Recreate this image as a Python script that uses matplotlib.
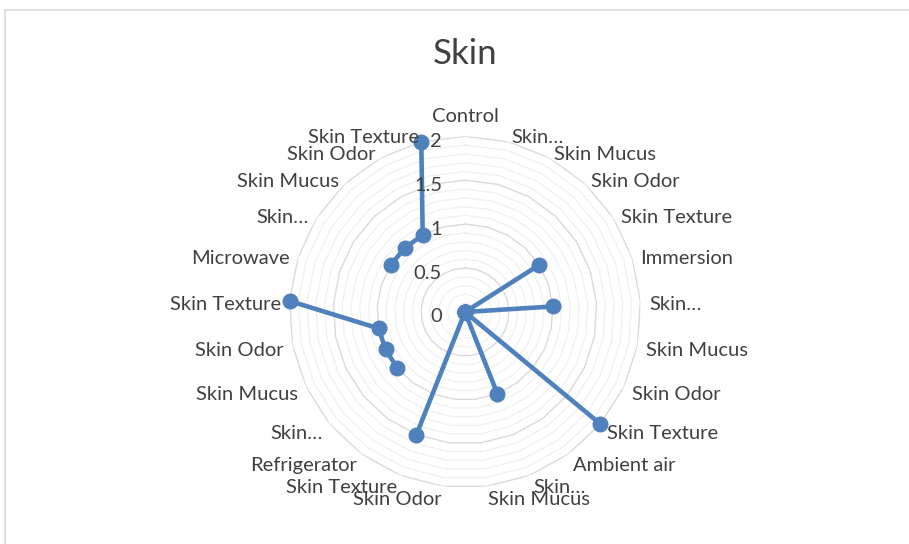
import numpy as np
import matplotlib
matplotlib.use("Agg")
import matplotlib.pyplot as plt
import matplotlib.transforms as mtransforms
from matplotlib.patches import Rectangle

# categories around the radar, clockwise from the top
categories = ["Control", "Skin…", "Skin Mucus", "Skin Odor", "Skin Texture",
              "Immersion", "Skin…", "Skin Mucus", "Skin Odor", "Skin Texture",
              "Ambient air", "Skin…", "Skin Mucus", "Skin Odor", "Skin Texture",
              "Refrigerator", "Skin…", "Skin Mucus", "Skin Odor", "Skin Texture",
              "Microwave", "Skin…", "Skin Mucus", "Skin Odor", "Skin Texture"]
# group header rows are blank -> gaps in the line
values = [np.nan, 0, 0, 0, 1,
          np.nan, 1, 0, 0, 2,
          np.nan, 1, 0, 0, 1.5,
          np.nan, 1, 1, 1, 2,
          np.nan, 1, 1, 1, 2]
r_ticks = [0, 0.5, 1, 1.5, 2]
r_tick_labels = ["0", "0.5", "1", "1.5", "2"]

plt.rcParams['font.family'] = ['Lato', 'DejaVu Sans']

W, H = 909, 544
fig = plt.figure(figsize=(W / 100, H / 100), dpi=100)

# chart border
fig.patches.append(Rectangle((5 / W, -0.02), 1.05, 1 - 10 / H + 0.02,
                             transform=fig.transFigure, fill=False,
                             edgecolor="#D9D9D9", linewidth=1.2))

cx, cy, R = 465, 312, 175.7
ax = fig.add_axes([(cx - R) / W, (H - cy - R) / H, 2 * R / W, 2 * R / H],
                  projection="polar")
ax.set_theta_zero_location("N")
ax.set_theta_direction(-1)
ax.set_ylim(0, 2)
ax.grid(False)
ax.set_xticks([])
ax.set_yticks([])
ax.spines["polar"].set_visible(False)
ax.patch.set_alpha(0)

n = len(categories)
angles = np.arange(n) * 2 * np.pi / n
closed = np.append(angles, angles[0])

# polygon gridlines (minor every 0.1, major every 0.5)
for k in range(1, 21):
    lvl = k / 10
    major = k % 5 == 0
    ax.plot(closed, np.full(n + 1, lvl),
            color="#D9D9D9" if major else "#F0F0F0",
            lw=1.0 if major else 0.9, zorder=1)

ax.plot(angles, values, color="#4F81BD", lw=3.3, marker="o",
        markersize=10.5, zorder=3, clip_on=False)

# radial value labels
off = mtransforms.offset_copy(ax.transData, fig=fig, x=-23, y=-5, units="dots")
for t, lab in zip(r_ticks, r_tick_labels):
    ax.text(0, t, lab, transform=off, ha="right", va="center",
            fontsize=14.5, color="#404040")

# category labels
side_off = mtransforms.offset_copy(ax.transData, fig=fig, x=0, y=-4, units="dots")
top_off = mtransforms.offset_copy(ax.transData, fig=fig, x=0, y=3, units="dots")
for a, lab in zip(angles, categories):
    s = np.sin(a)
    if abs(s) < 0.05:
        ax.text(a, 2.1, lab, transform=top_off, ha="center", va="bottom",
                fontsize=14.5, color="#404040")
    else:
        ax.text(a, 2.1, lab, transform=side_off,
                ha="left" if s > 0 else "right", va="center",
                fontsize=14.5, color="#404040")

fig.text(cx / W, 1 - 54 / H, "Skin", ha="center", va="center",
         fontsize=25, color="#404040")

fig.savefig("out.png", dpi=100)
